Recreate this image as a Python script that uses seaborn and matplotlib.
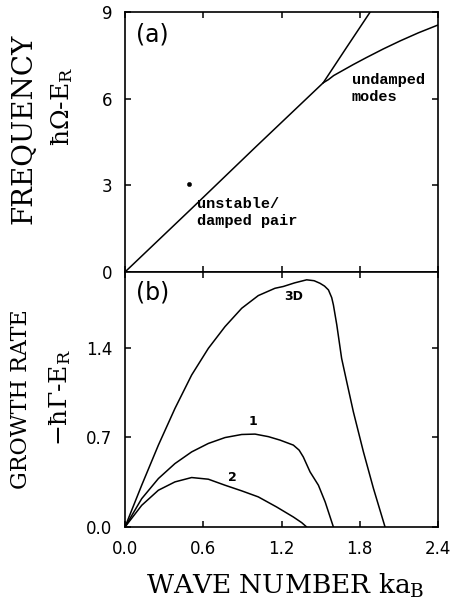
import matplotlib
matplotlib.use("Agg")
import matplotlib.pyplot as plt
import seaborn as sns

# (a) dispersion: frequency vs wave number
main_k = [0.0, 0.50, 1.00, 1.52]
main_w = [0.0, 2.15, 4.32, 6.55]
upper_k = [1.52, 1.70, 1.88]
upper_w = [6.55, 7.78, 9.0]
lower_k = [1.52, 1.56, 1.60, 1.75, 1.85, 1.98, 2.11, 2.25, 2.40]
lower_w = [6.55, 6.66, 6.80, 7.18, 7.42, 7.72, 8.00, 8.28, 8.55]
dot_k = [0.49]
dot_w = [3.04]

# (b) growth rates
k_3d = [0.0, 0.128, 0.256, 0.383, 0.511, 0.639, 0.767, 0.895, 1.022, 1.150,
        1.214, 1.30, 1.393, 1.450, 1.495, 1.530, 1.560, 1.585, 1.598, 1.624,
        1.661, 1.700, 1.751, 1.828, 1.905, 1.994]
g_3d = [0.0, 0.326, 0.639, 0.925, 1.186, 1.394, 1.564, 1.707, 1.806, 1.863,
        1.877, 1.905, 1.929, 1.922, 1.902, 1.880, 1.850, 1.790, 1.733, 1.577,
        1.316, 1.134, 0.899, 0.587, 0.301, 0.0]
k_1 = [0.0, 0.128, 0.256, 0.383, 0.511, 0.639, 0.767, 0.895, 0.997, 1.10,
       1.189, 1.291, 1.335, 1.367, 1.419, 1.483, 1.535, 1.598]
g_1 = [0.0, 0.221, 0.378, 0.495, 0.586, 0.652, 0.698, 0.722, 0.725, 0.705,
       0.678, 0.639, 0.600, 0.547, 0.430, 0.326, 0.195, 0.0]
k_2 = [0.0, 0.128, 0.256, 0.383, 0.511, 0.639, 0.767, 0.895, 1.022, 1.163,
       1.291, 1.355, 1.393]
g_2 = [0.0, 0.169, 0.287, 0.352, 0.386, 0.373, 0.326, 0.282, 0.235, 0.156,
       0.078, 0.034, 0.0]

x_ticks = [0.0, 0.6, 1.2, 1.8, 2.4]
x_ticklabels = ["0.0", "0.6", "1.2", "1.8", "2.4"]
freq_ticks = [0, 3, 6, 9]
freq_ticklabels = ["0", "3", "6", "9"]
rate_ticks = [0.0, 0.7, 1.4]
rate_ticklabels = ["0.0", "0.7", "1.4"]

sns.set_style("ticks")
plt.rcParams["font.family"] = ["DejaVu Sans"]
plt.rcParams["mathtext.fontset"] = "dejavuserif"
plt.rcParams["text.color"] = "black"
plt.rcParams["xtick.color"] = "black"
plt.rcParams["ytick.color"] = "black"
plt.rcParams["lines.solid_joinstyle"] = "round"

W, H = 453, 601
fig = plt.figure(figsize=(W / 100, H / 100), dpi=100)
L, R = 125 / W, 438 / W
ax1 = fig.add_axes([L, 1 - 272 / H, R - L, (272 - 12) / H])
ax2 = fig.add_axes([L, 1 - 527 / H, R - L, (527 - 272) / H])

lc = "black"
lw = 1.1
for k, w in [(main_k, main_w), (upper_k, upper_w), (lower_k, lower_w)]:
    sns.lineplot(x=k, y=w, ax=ax1, color=lc, lw=lw, sort=False, estimator=None)
sns.scatterplot(x=dot_k, y=dot_w, ax=ax1, color=lc, s=10, edgecolor=lc)

for k, g in [(k_3d, g_3d), (k_1, g_1), (k_2, g_2)]:
    sns.lineplot(x=k, y=g, ax=ax2, color=lc, lw=lw, sort=False, estimator=None)

for ax in (ax1, ax2):
    ax.set_xlim(0, 2.4)
    ax.set_xticks(x_ticks)
    for s in ax.spines.values():
        s.set_visible(True)
        s.set_linewidth(1.2)
        s.set_color("black")
    ax.tick_params(direction="in", top=True, right=True, length=4, width=1.1,
                   labelsize=12, pad=9, colors="black")
    ax.set_xlabel("")
    ax.set_ylabel("")

ax1.set_ylim(0, 9)
ax1.set_yticks(freq_ticks)
ax1.set_yticklabels(freq_ticklabels)
ax1.set_xticklabels([])

ax2.set_ylim(0, 1.99)
ax2.set_yticks(rate_ticks)
ax2.set_yticklabels(rate_ticklabels)
ax2.set_xticklabels(x_ticklabels)

# panel tags
ax1.text(0.035, 0.915, "(a)", transform=ax1.transAxes, fontsize=17,
         ha="left", va="center")
ax2.text(0.035, 0.92, "(b)", transform=ax2.transAxes, fontsize=17,
         ha="left", va="center")

mono = dict(family="Liberation Mono", weight="bold", fontsize=11)
ax1.text(0.55, 2.05, "unstable/\ndamped pair", ha="left", va="center",
         linespacing=1.25, **mono)
ax1.text(1.74, 6.35, "undamped\nmodes", ha="left", va="center",
         linespacing=1.25, **mono)

lab = dict(weight="bold", fontsize=9, ha="center", va="center")
ax2.text(1.29, 1.80, "3D", **lab)
ax2.text(0.98, 0.82, "1", **lab)
ax2.text(0.82, 0.39, "2", **lab)

# axis titles
serif = "DejaVu Serif"
fig.text(24 / W, 1 - 129 / H, "FREQUENCY", family=serif, fontsize=20,
         rotation=90, ha="center", va="center")
fig.text(62 / W, 1 - 106 / H, r"$\mathrm{\hbar\Omega}$-E$_\mathrm{R}$",
         family=serif, fontsize=18, rotation=90, ha="center", va="center")
fig.text(21 / W, 1 - 399 / H, "GROWTH RATE", family=serif, fontsize=16,
         rotation=90, ha="center", va="center")
fig.text(60 / W, 1 - 398 / H, r"$-\mathrm{\hbar\Gamma}$-E$_\mathrm{R}$",
         family=serif, fontsize=18, rotation=90, ha="center", va="center")
fig.text(285 / W, 1 - 586 / H, r"WAVE NUMBER ka$_\mathrm{B}$", family=serif,
         fontsize=19, ha="center", va="center")

fig.savefig("out.png", dpi=100, facecolor="white")
